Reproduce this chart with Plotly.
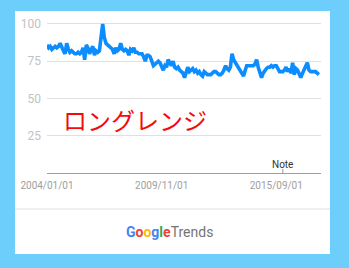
import pandas as pd
import plotly.graph_objects as go

# Monthly search interest, 2004-01 .. 2017-11 (relative, peak = 100)
interest = [
    86, 84, 85, 83, 84, 85, 84, 85, 87, 84, 82, 80,   # 2004
    87, 83, 81, 82, 81, 80, 80, 81, 80, 81, 84, 76,   # 2005
    86, 84, 80, 83, 85, 79, 82, 81, 82, 91, 100, 91,  # 2006
    87, 86, 85, 84, 83, 80, 84, 82, 83, 87, 83, 82,   # 2007
    83, 82, 79, 83, 82, 84, 81, 81, 80, 80, 80, 78,   # 2008
    75, 79, 79, 78, 74, 72, 73, 74, 75, 74, 72, 69,   # 2009
    72, 71, 76, 74, 72, 75, 71, 70, 71, 69, 68, 67,   # 2010
    64, 69, 71, 68, 69, 70, 68, 69, 67, 68, 66, 65,   # 2011
    68, 67, 66, 66, 66, 67, 68, 68, 67, 66, 66, 67,   # 2012
    69, 72, 70, 69, 71, 80, 76, 74, 72, 70, 68, 66,   # 2013
    65, 69, 72, 72, 72, 72, 72, 73, 76, 71, 68, 64,   # 2014
    67, 69, 70, 71, 71, 72, 71, 72, 72, 70, 68, 68,   # 2015
    68, 69, 71, 68, 70, 67, 74, 66, 70, 69, 66, 64,   # 2016
    67, 70, 71, 74, 69, 68, 68, 68, 68, 67, 66,       # 2017
]
months = pd.date_range("2004-01-01", periods=len(interest), freq="MS")

tick_dates = ["2004-01-01", "2009-11-01", "2015-09-01"]
tick_labels = ["2004/01/01", "2009/11/01", "2015/09/01"]
y_ticks = [25, 50, 75, 100]
note_date = "2016-01-01"
overlay_text = "ロングレンジ"

W, H = 349, 268
L, R, T, B = 47, 321, 18, 173   # plot area in pixels
Y_MAX = 104


def px_x(px):
    return (px - L) / (R - L)


def px_y(py):
    return (B - py) / (B - T)


# x range: 2004-01 sits on the left edge, ~167.5 months span to the right edge
start = pd.Timestamp("2004-01-01")
end = start + pd.Timedelta(days=167.3 * 30.44)

fig = go.Figure()
fig.add_trace(go.Scatter(
    x=months, y=interest, mode="lines",
    line=dict(color="#0b8cff", width=3.6),
    hoverinfo="skip", showlegend=False,
))

shapes = [
    # white card
    dict(type="rect", xref="paper", yref="paper",
         x0=px_x(15), x1=px_x(330), y0=px_y(254), y1=px_y(11),
         fillcolor="white", line=dict(width=0), layer="below"),
    # footer separator
    dict(type="line", xref="paper", yref="paper",
         x0=px_x(15), x1=px_x(330), y0=px_y(209), y1=px_y(209),
         line=dict(color="#e0e0e0", width=1), layer="above"),
    # note tick on the baseline
    dict(type="line", xref="x", yref="paper",
         x0=note_date, x1=note_date, y0=px_y(173), y1=px_y(169),
         line=dict(color="#9e9e9e", width=1)),
]

google = ("<b><span style='color:#4285F4'>G</span>"
          "<span style='color:#EA4335'>o</span>"
          "<span style='color:#FBBC05'>o</span>"
          "<span style='color:#4285F4'>g</span>"
          "<span style='color:#34A853'>l</span>"
          "<span style='color:#EA4335'>e</span></b>"
          "<span style='color:#757575'>Trends</span>")

annotations = [
    dict(text="Note", xref="x", yref="paper", x=note_date, y=px_y(164),
         showarrow=False, font=dict(family="Roboto", size=10, color="#333333"),
         xanchor="center", yanchor="middle"),
    dict(text=overlay_text, xref="paper", yref="paper", x=px_x(61), y=px_y(119),
         showarrow=False, xanchor="left", yanchor="middle",
         font=dict(family="Noto Sans CJK JP", size=24, color="#f50a0a")),
    dict(text=google, xref="paper", yref="paper", x=px_x(169), y=px_y(232),
         showarrow=False, xanchor="center", yanchor="middle",
         font=dict(family="Roboto", size=14, color="#757575")),
]

fig.update_layout(
    width=W, height=H,
    margin=dict(l=L, r=W - R, t=T, b=H - B, pad=0),
    paper_bgcolor="#6dcdfb",
    plot_bgcolor="rgba(0,0,0,0)",
    shapes=shapes,
    annotations=annotations,
    xaxis=dict(
        type="date", range=[start, end],
        tickvals=tick_dates, ticktext=tick_labels,
        showgrid=False, zeroline=False,
        showline=True, linecolor="#9e9e9e", linewidth=1,
        ticks="", ticklabelstandoff=3,
        tickfont=dict(family="Roboto", size=10, color="#9e9e9e"),
        fixedrange=True,
    ),
    yaxis=dict(
        range=[0, Y_MAX],
        tickvals=y_ticks, ticktext=[str(v) for v in y_ticks],
        showgrid=True, gridcolor="#e0e0e0", gridwidth=1,
        zeroline=False, showline=False, ticks="",
        ticklabelstandoff=5,
        tickfont=dict(family="Roboto", size=12, color="#c2c2c2"),
        fixedrange=True,
    ),
)

fig.write_html("out.html", config={"displayModeBar": False})
